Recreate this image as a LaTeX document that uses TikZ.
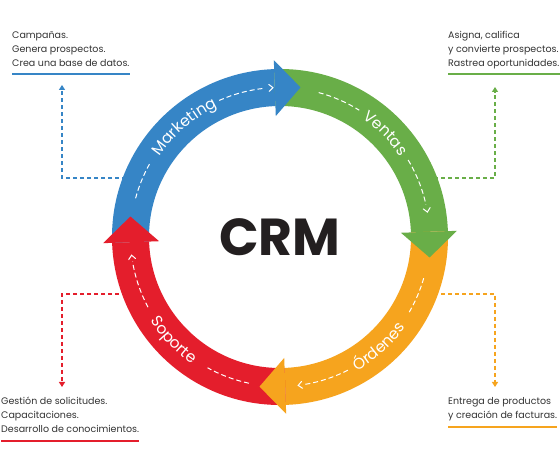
\documentclass[tikz,border=0pt]{standalone}
\usepackage{fontspec}
\setmainfont{Poppins}
\usetikzlibrary{arrows.meta,decorations.text}

\definecolor{mktblue}{HTML}{3685C6}
\definecolor{salesgreen}{HTML}{69AE48}
\definecolor{orderorange}{HTML}{F6A41E}
\definecolor{supportred}{HTML}{E41E2C}
\definecolor{crmink}{HTML}{231F20}
\definecolor{noteink}{HTML}{333333}

\tikzset{
  link/.style={line width=1.2pt, dash pattern=on 4pt off 3pt,
    -{Triangle[width=6pt,length=5pt]}},
  flowdash/.style={white, line width=1pt, dash pattern=on 5pt off 3pt},
  chevron/.style={white, line width=1pt, line cap=round},
  note/.style={inner sep=0pt, align=left, text=noteink,
    font=\fontsize{9.5}{14.2}\selectfont},
  noteline/.style={line width=1.5pt},
  ringtext/.style={decorate, decoration={text along path, text align=center,
    text={|\color{white}\fontsize{15.5}{15.5}\selectfont|#1}}}
}

\begin{document}
\begin{tikzpicture}[x=1pt, y=1pt]
  \fill[white] (0,0) rectangle (560,474);
  \useasboundingbox (0,0) rectangle (560,474);
  \coordinate (hub) at (280,237);

  % notas (base = ultima linea)
  \node[note, anchor=base west] (mktnote) at (12,407.5)
    {Campañas.\\Genera prospectos.\\Crea una base de datos.};
  \node[note, anchor=base west] (salesnote) at (448,407.5)
    {Asigna, califica\\y convierte prospectos.\\Rastrea oportunidades.};
  \node[note, anchor=base west] (supportnote) at (1,41)
    {Gestión de solicitudes.\\Capacitaciones.\\Desarrollo de conocimientos.};
  \node[note, anchor=base west] (ordernote) at (448,55.5)
    {Entrega de productos\\y creación de facturas.};

  \draw[noteline, mktblue]     (mktnote.west |- 0,400) -- (mktnote.east |- 0,400);
  \draw[noteline, salesgreen]  (salesnote.west |- 0,400) -- (salesnote.east |- 0,400);
  \draw[noteline, supportred]  (supportnote.west |- 0,33) -- (supportnote.east |- 0,33);
  \draw[noteline, orderorange] (ordernote.west |- 0,47) -- (ordernote.east |- 0,47);

  % conectores
  \coordinate (mktport) at (140,296);
  \coordinate (mkttip) at (62,389);
  \coordinate (salesport) at (420,296);
  \coordinate (salestip) at (495,387);
  \coordinate (supportport) at (140,180);
  \coordinate (supporttip) at (62,87);
  \coordinate (orderport) at (420,180);
  \coordinate (ordertip) at (495,87);
  \draw[link, mktblue]     (mktport) -| (mkttip);
  \draw[link, salesgreen]  (salesport) -| (salestip);
  \draw[link, supportred]  (supportport) -| (supporttip);
  \draw[link, orderorange] (orderport) -| (ordertip);

  \begin{scope}[shift={(hub)}]
    % anillo
    \fill[mktblue] (182:168pt) arc[start angle=182, end angle=92, radius=168pt]
      -- (92:131pt) arc[start angle=92, end angle=182, radius=131pt] -- cycle;
    \fill[salesgreen] (92:168pt) arc[start angle=92, end angle=2, radius=168pt]
      -- (2:131pt) arc[start angle=2, end angle=92, radius=131pt] -- cycle;
    \fill[orderorange] (2:168pt) arc[start angle=2, end angle=-88, radius=168pt]
      -- (-88:131pt) arc[start angle=-88, end angle=2, radius=131pt] -- cycle;
    \fill[supportred] (-88:168pt) arc[start angle=-88, end angle=-178, radius=168pt]
      -- (-178:131pt) arc[start angle=-178, end angle=-88, radius=131pt] -- cycle;

    % puntas
    \fill[mktblue]     (92:121pt) -- (92:177pt) -- (82.2:151pt) -- cycle;
    \fill[salesgreen]  (2:121pt) -- (2:177pt) -- (-7.8:151pt) -- cycle;
    \fill[orderorange] (-88:121pt) -- (-88:177pt) -- (-97.8:151pt) -- cycle;
    \fill[supportred]  (-178:121pt) -- (-178:177pt) -- (-187.8:151pt) -- cycle;

    % Marketing
    \draw[flowdash] (165:149.5pt) arc[start angle=165, end angle=150, radius=149.5pt];
    \path[ringtext=Marketing] (151:144.5pt) arc[start angle=151, end angle=111, radius=144.5pt];
    \draw[flowdash] (114:149.5pt) arc[start angle=114, end angle=96, radius=149.5pt];
    \draw[chevron] (94.2:146pt) -- (92.7:149.5pt) -- (94.2:153pt);

    % Ventas
    \draw[flowdash] (75:149.5pt) arc[start angle=75, end angle=58, radius=149.5pt];
    \path[ringtext=Ventas] (64.5:144.5pt) arc[start angle=64.5, end angle=24.5, radius=144.5pt];
    \draw[flowdash] (31:149.5pt) arc[start angle=31, end angle=12.5, radius=149.5pt];
    \draw[chevron] (11.1:146pt) -- (9.6:149.5pt) -- (11.1:153pt);

    % Órdenes
    \draw[flowdash] (-16:149.5pt) arc[start angle=-16, end angle=-31, radius=149.5pt];
    \path[ringtext=Órdenes] (-68:154.5pt) arc[start angle=-68, end angle=-28, radius=154.5pt];
    \draw[flowdash] (-63:149.5pt) arc[start angle=-63, end angle=-80.5, radius=149.5pt];
    \draw[chevron] (-81.5:146pt) -- (-83:149.5pt) -- (-81.5:153pt);

    % Soporte
    \draw[flowdash] (-102:149.5pt) arc[start angle=-102, end angle=-119, radius=149.5pt];
    \path[ringtext=Soporte] (-156:154.5pt) arc[start angle=-156, end angle=-116, radius=154.5pt];
    \draw[flowdash] (-152:149.5pt) arc[start angle=-152, end angle=-170.5, radius=149.5pt];
    \draw[chevron] (-171.5:146pt) -- (-173:149.5pt) -- (-171.5:153pt);
  \end{scope}

  \node[font=\fontsize{52}{52}\selectfont\bfseries, text=crmink] (crm) at (hub) {CRM};
\end{tikzpicture}
\end{document}
